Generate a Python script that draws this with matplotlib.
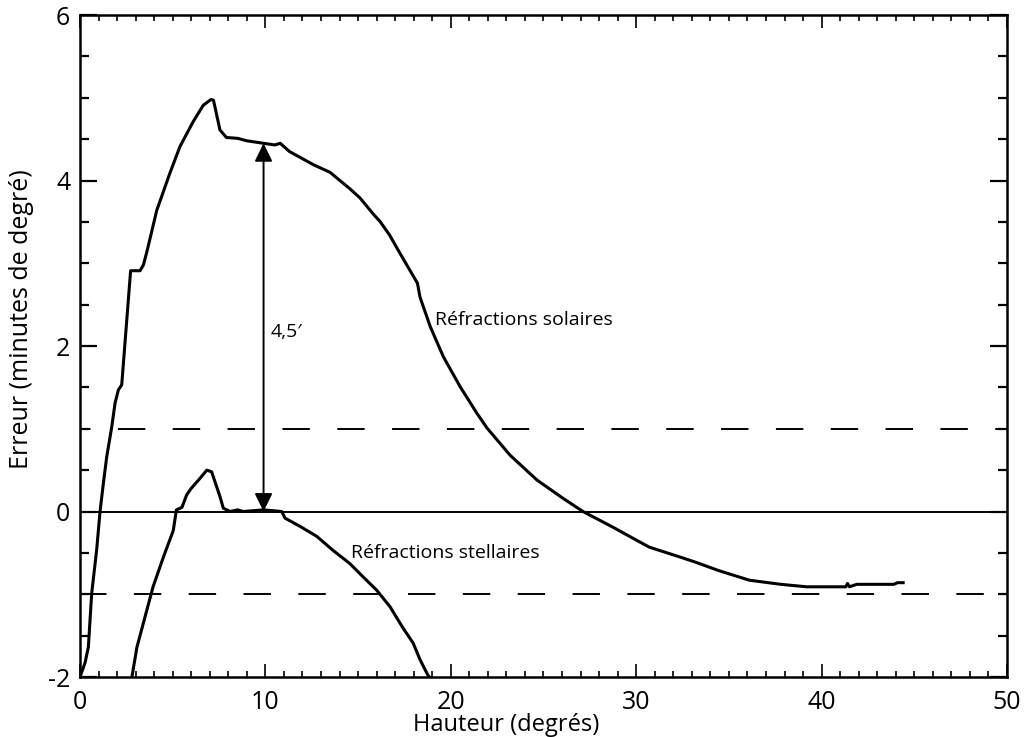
import numpy as np
import matplotlib.pyplot as plt
from matplotlib.ticker import MultipleLocator

plt.rcParams['font.family'] = ['Open Sans', 'DejaVu Sans']
plt.rcParams['axes.unicode_minus'] = False

# courbe "Réfractions solaires"
solar_x = [0.0, 0.27, 0.45, 0.63, 0.9, 1.08, 1.26, 1.44, 1.71, 1.89, 2.07, 2.25,
           2.5, 2.73, 3.24, 3.42, 3.63, 4.14, 4.85, 5.39, 6.1, 6.65, 7.07, 7.2,
           7.55, 7.9, 8.5, 9.0, 9.9, 10.5, 10.8, 11.3, 12.6, 13.48, 14.56, 15.1,
           15.8, 16.2, 16.7, 17.26, 18.2, 18.34, 18.9, 19.6, 20.5, 21.4, 21.95, 23.2,
           24.65, 26.05, 27.13, 28.75, 29.8, 30.7, 32.5, 33.3, 34.4, 36.1, 37.8,
           39.2, 41.3, 41.4, 41.5, 41.9, 43.9, 44.1, 44.4]
solar_y = [-2.0, -1.83, -1.64, -0.99, -0.46, 0.0, 0.34, 0.66, 1.02, 1.31, 1.47, 1.53,
           2.25, 2.91, 2.91, 2.98, 3.16, 3.64, 4.09, 4.41, 4.71, 4.91, 4.98, 4.97,
           4.61, 4.52, 4.51, 4.48, 4.45, 4.43, 4.45, 4.35, 4.19, 4.1, 3.9, 3.79,
           3.6, 3.5, 3.34, 3.12, 2.76, 2.59, 2.23, 1.87, 1.51, 1.19, 1.01, 0.68,
           0.38, 0.16, 0.0, -0.19, -0.32, -0.43, -0.56, -0.62, -0.71, -0.83, -0.88,
           -0.91, -0.91, -0.87, -0.91, -0.88, -0.88, -0.86, -0.86]

# courbe "Réfractions stellaires"
star_x = [2.8, 3.07, 3.94, 4.5, 5.03, 5.2, 5.5, 5.75, 6.0, 6.47, 6.84, 7.1, 7.55,
          7.73, 8.1, 8.5, 8.8, 9.9, 10.88, 11.06, 11.87, 12.77, 13.65, 14.56,
          15.27, 16.0, 16.72, 17.4, 17.97, 18.34, 18.77, 18.85]
star_y = [-2.0, -1.64, -0.91, -0.55, -0.23, 0.02, 0.05, 0.2, 0.28, 0.4, 0.5, 0.48,
          0.18, 0.04, 0.0, 0.02, 0.0, 0.02, 0.0, -0.08, -0.18, -0.3, -0.47, -0.63,
          -0.79, -0.95, -1.15, -1.4, -1.59, -1.79, -1.98, -2.0]

limits_y = [1, -1]
dash_offsets = [8.7, 0.5]
arrow_x = 9.9
arrow_top = 4.45

fig = plt.figure(figsize=(10.31, 7.37), dpi=100)
ax = fig.add_axes([0.0776, 0.0814, 0.8991, 0.8982])

ax.plot(solar_x, solar_y, color='black', lw=2.2)
ax.plot(star_x, star_y, color='black', lw=2.2)
ax.axhline(0, color='black', lw=1.4)
for yl, off in zip(limits_y, dash_offsets):
    ax.axhline(yl, color='black', lw=1.4, linestyle=(off, (14.1, 14.1)))

ax.annotate('', xy=(arrow_x, arrow_top), xytext=(arrow_x, 0),
            arrowprops=dict(arrowstyle='<|-|>,head_length=0.55,head_width=0.27',
                            color='black', lw=1.4, mutation_scale=20,
                            shrinkA=0, shrinkB=0))
ax.text(10.3, 2.17, '4,5′', fontsize=14, va='center', ha='left')
ax.text(19.15, 2.31, 'Réfractions solaires', fontsize=14, va='center', ha='left')
ax.text(14.6, -0.5, 'Réfractions stellaires', fontsize=14, va='center', ha='left')

ax.set_xlim(0, 50)
ax.set_ylim(-2, 6)
ax.xaxis.set_major_locator(MultipleLocator(10))
ax.xaxis.set_minor_locator(MultipleLocator(1))
ax.yaxis.set_major_locator(MultipleLocator(2))
ax.yaxis.set_minor_locator(MultipleLocator(0.5))
ax.tick_params(axis='x', which='major', direction='in', length=9.5, width=1.2,
               top=True, labelsize=18, pad=9)
ax.tick_params(axis='x', which='minor', direction='in', length=4.5, width=1.2, top=True)
ax.tick_params(axis='y', which='major', direction='in', length=12, width=1.6,
               right=True, labelsize=18, pad=7)
ax.tick_params(axis='y', which='minor', direction='in', length=6.5, width=1.6, right=True)
for sp in ax.spines.values():
    sp.set_linewidth(1.8)

ax.set_xlabel('Hauteur (degrés)', fontsize=17)
ax.xaxis.set_label_coords(0.46, -0.055)
ax.set_ylabel('Erreur (minutes de degré)', fontsize=18)
ax.yaxis.set_label_coords(-0.05, 0.54)

fig.savefig('out.png', dpi=100)
